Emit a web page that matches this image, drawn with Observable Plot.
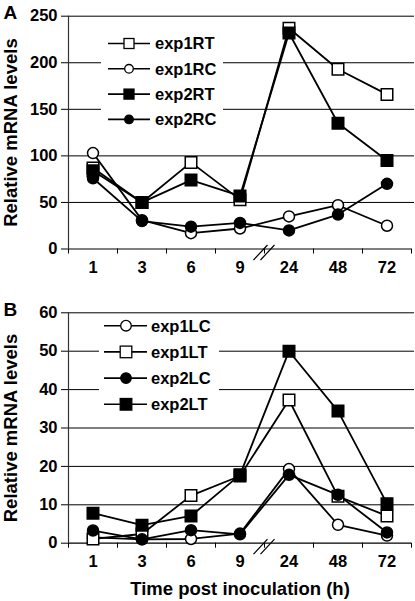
<!DOCTYPE html>
<html><head><meta charset="utf-8">
<script src="https://cdn.jsdelivr.net/npm/d3@7"></script>
<script src="https://cdn.jsdelivr.net/npm/@observablehq/plot@0.6"></script>
<style>
body{margin:0;background:#fff;}
#wrap{position:relative;width:415px;height:601px;}
#wrap svg{display:block;}
</style></head><body><div id="wrap"></div>
<script>
// ---- data ----
const categories = ["1","3","6","9","24","48","72"];
const breakAfter = "9";

const seriesA = ["exp1RT","exp1RC","exp2RT","exp2RC"];
const exp1RT = [87, 50, 93, 53, 237, 193, 166];
const exp1RC = [103, 31, 17, 22, 35, 47, 25];
const exp2RT = [84, 50, 74, 57, 232, 135, 95];
const exp2RC = [76, 30, 24, 28, 20, 37, 70];
const yTicksA = [0, 50, 100, 150, 200, 250];

const seriesB = ["exp1LC","exp1LT","exp2LC","exp2LT"];
const exp1LC = [1.5, 1.0, 1.1, 2.5, 19.3, 4.8, 2.0];
const exp1LT = [1.1, 2.4, 12.4, 17.5, 37.3, 12.2, 7.1];
const exp2LC = [3.3, 1.0, 3.4, 2.3, 17.8, 12.6, 2.8];
const exp2LT = [7.8, 4.7, 7.1, 17.8, 50.0, 34.4, 10.3];
const yTicksB = [0, 10, 20, 30, 40, 50, 60];

const yLabel = "Relative mRNA levels";
const xLabel = "Time post inoculation (h)";

// marker style per series: [symbol, filled]
const markerStyle = {
  exp1RT: ["square", false], exp1RC: ["circle", false],
  exp2RT: ["square", true],  exp2RC: ["circle", true],
  exp1LC: ["circle", false], exp1LT: ["square", false],
  exp2LC: ["circle", true],  exp2LT: ["square", true]
};

const valuesA = {exp1RT, exp1RC, exp2RT, exp2RC};
const valuesB = {exp1LC, exp1LT, exp2LC, exp2LT};

function rowsOf(names, vals) {
  return names.flatMap(s => vals[s].map((v, i) => ({series: s, i, value: v})));
}

const FONT = '"Liberation Sans", Arial, Helvetica, sans-serif';

const breakSymbol = {
  draw(ctx) {
    ctx.moveTo(-11, 11); ctx.lineTo(3, -4);
    ctx.moveTo(-4, 11); ctx.lineTo(10, -4);
  }
};

function panel({height, marginTop, marginBottom, domain, ticks, names, vals, letter, letterDy, withXLabel}) {
  const rows = rowsOf(names, vals);
  const n = categories.length;
  const sq = 6.5, cr = 5.5;
  const dots = names.map(s => {
    const [sym, filled] = markerStyle[s];
    return Plot.dot(rows.filter(d => d.series === s), {
      x: "i", y: "value", symbol: sym, r: sym === "square" ? sq : cr,
      fill: filled ? "black" : "white", stroke: "black", strokeWidth: 1.5
    });
  });
  const bi = categories.indexOf(breakAfter) + 0.5;
  const marks = [
    Plot.ruleY(ticks.filter(t => t > 0), {stroke: "black", strokeWidth: 1, insetRight: -3}),
    Plot.ruleY([0], {stroke: "black", strokeWidth: 1.2}),
    Plot.ruleX([-0.5], {stroke: "#333", strokeWidth: 1.2}),
    Plot.axisY({ticks, tickSize: 7, tickPadding: 4, label: null, fontSize: 16.5, fontWeight: "bold"}),
    Plot.axisX({ticks: d3.range(n), tickFormat: i => categories[i], tickSize: 0, tickPadding: 12, label: null, fontSize: 16.5, fontWeight: "bold"}),
    Plot.axisX({ticks: d3.range(n + 1).map(i => i - 0.5), tickFormat: () => "", tickSize: 5, label: null}),
    Plot.dot([{x: bi, y: 0}], {x: "x", y: "y", symbol: breakSymbol, stroke: "black", fill: "none", strokeWidth: 1.2}),
    Plot.line(rows, {x: "i", y: "value", z: "series", stroke: "black", strokeWidth: 1.8}),
    ...dots,
    Plot.text([yLabel], {frameAnchor: "left", textAnchor: "middle", lineAnchor: "middle", rotate: -90, dx: -57, fontSize: 18.5, fontWeight: "bold", fill: "black"}),
    Plot.text([letter], {frameAnchor: "top-left", textAnchor: "start", lineAnchor: "middle", dx: -65, dy: letterDy, fontSize: 19, fontWeight: "bold", fill: "black"})
  ];
  if (withXLabel) {
    marks.push(Plot.text([xLabel], {frameAnchor: "bottom", textAnchor: "middle", lineAnchor: "middle", dy: 45.6, fontSize: 18.5, fontWeight: "bold", fill: "black"}));
  }
  return Plot.plot({
    width: 415, height, marginLeft: 68, marginRight: 4, marginTop, marginBottom,
    style: {fontFamily: FONT, fontSize: "16px", fontWeight: "bold", color: "black", background: "white", overflow: "visible"},
    x: {type: "linear", domain: [-0.5, n - 0.5], axis: null},
    y: {domain, axis: null},
    marks
  });
}

function addLegend(svg, names, box, rowY0, rowStep, lineX1, lineX2, markX, textX, sqHalf, cirR) {
  const g = d3.select(svg).append("g");
  g.append("rect").attr("x", box[0]).attr("y", box[1]).attr("width", box[2]).attr("height", box[3]).attr("fill", "white");
  names.forEach((s, k) => {
    const y = rowY0 + k * rowStep;
    const [sym, filled] = markerStyle[s];
    g.append("line").attr("x1", lineX1).attr("x2", lineX2).attr("y1", y).attr("y2", y)
      .attr("stroke", "black").attr("stroke-width", 1.6);
    const fill = filled ? "black" : "white";
    if (sym === "square") {
      g.append("rect").attr("x", markX - sqHalf).attr("y", y - sqHalf).attr("width", 2 * sqHalf).attr("height", 2 * sqHalf)
        .attr("fill", fill).attr("stroke", "black").attr("stroke-width", 1.3);
    } else {
      g.append("circle").attr("cx", markX).attr("cy", y).attr("r", cirR)
        .attr("fill", fill).attr("stroke", "black").attr("stroke-width", 1.3);
    }
    g.append("text").attr("x", textX).attr("y", y + 5.9).text(s)
      .attr("text-anchor", "start")
      .attr("font-family", FONT).attr("font-size", 16.5).attr("font-weight", "bold").attr("fill", "black");
  });
}

const wrap = document.getElementById("wrap");

const svgA = panel({height: 280, marginTop: 15.7, marginBottom: 31.5, domain: [0, 250], ticks: yTicksA,
  names: seriesA, vals: valuesA, letter: "A", letterDy: -3.2, withXLabel: false});
addLegend(svgA, seriesA, [101, 27, 122, 104], 43.5, 25.3, 108, 150, 129, 155, 5, 4.3);
wrap.appendChild(svgA);

const svgB = panel({height: 321, marginTop: 32.3, marginBottom: 58.3, domain: [0, 60], ticks: yTicksB,
  names: seriesB, vals: valuesB, letter: "B", letterDy: -2.6, withXLabel: true});
addLegend(svgB, seriesB, [99, 34, 120, 104], 45.7, 26.2, 104, 147, 126, 151, 5.8, 5.3);
wrap.appendChild(svgB);
</script>
</body></html>
